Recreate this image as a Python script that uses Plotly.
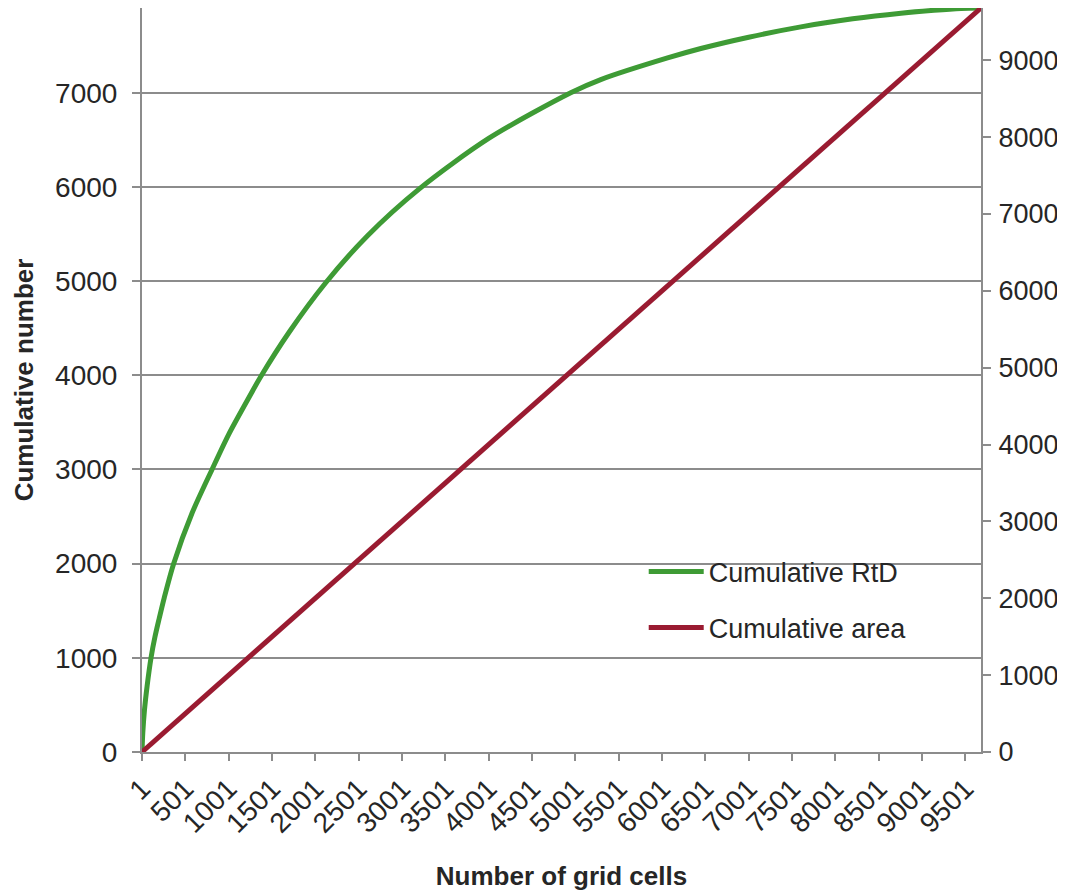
import plotly.graph_objects as go

# Green curve: cumulative RtD (left axis)
rtd_cells = [1, 10, 30, 60, 105, 150, 200, 258, 366, 580, 809, 1000, 1220, 1370, 1700, 2118, 2600, 3200,
             4000, 4947, 5293, 6064, 6448, 7000, 7602, 8200, 8757, 9138, 9450, 9680]
rtd_values = [0, 200, 450, 700, 1000, 1220, 1420, 1640, 2000, 2540, 3000, 3370, 3740, 3985, 4460, 4980, 5480, 5980,
              6515, 7000, 7140, 7370, 7470, 7590, 7700, 7785, 7845, 7876, 7895, 7900]

# Red line: cumulative area (right axis)
area_cells = [1, 9680]
area_values = [0, 9680]

x_tick_vals = list(range(1, 9502, 500))
x_tick_text = [str(v) for v in x_tick_vals]
left_ticks = [0, 1000, 2000, 3000, 4000, 5000, 6000, 7000]
right_ticks = [0, 1000, 2000, 3000, 4000, 5000, 6000, 7000, 8000, 9000]

FONT = "Liberation Sans, Arial, sans-serif"
GRID = "#8c8c8c"
TXT = "#262626"
TICK_SIZE = 28

fig = go.Figure()
fig.add_trace(go.Scatter(
    x=rtd_cells, y=rtd_values, mode="lines", name="Cumulative RtD",
    line=dict(color="#3E9B35", width=5, shape="spline", smoothing=0.8),
    legendgroup="a", yaxis="y"))
fig.add_trace(go.Scatter(
    x=area_cells, y=area_values, mode="lines", name="Cumulative area",
    line=dict(color="#9A1B31", width=5),
    legendgroup="b", yaxis="y2"))

# page body adds an 8px margin, so the figure is sized to fill the rest of the window
fig.update_layout(
    width=1057, height=883,
    margin=dict(l=134, r=84, t=0, b=139),
    paper_bgcolor="white", plot_bgcolor="white",
    font=dict(family=FONT, size=TICK_SIZE, color=TXT),
    showlegend=True,
    legend=dict(x=0.598, y=0.275, xanchor="left", yanchor="top",
                bgcolor="rgba(0,0,0,0)", font=dict(size=27, color=TXT),
                tracegroupgap=18, itemwidth=55),
    xaxis=dict(range=[1, 9680], tickmode="array", tickvals=x_tick_vals, ticktext=x_tick_text,
               tickangle=-45, ticks="outside", ticklen=7, tickwidth=1.5, tickcolor=GRID,
               showline=True, linecolor=GRID, linewidth=2, showgrid=False, zeroline=False,
               automargin=False,
               tickfont=dict(size=TICK_SIZE, color=TXT),
               title=dict(text="<b>Number of grid cells</b>", font=dict(size=26, color=TXT), standoff=44)),
    yaxis=dict(range=[0, 7900], tickmode="array", tickvals=left_ticks,
               ticks="outside", ticklen=8, tickwidth=1.5, tickcolor=GRID,
               showline=True, linecolor=GRID, linewidth=2,
               showgrid=True, gridcolor=GRID, gridwidth=1.5, zeroline=False,
               automargin=False, ticklabelstandoff=9,
               tickfont=dict(size=TICK_SIZE, color=TXT),
               title=dict(text="<b>Cumulative number</b>", font=dict(size=26, color=TXT), standoff=14)),
    yaxis2=dict(range=[0, 9680], tickmode="array", tickvals=right_ticks, overlaying="y", side="right",
                ticks="outside", ticklen=8, tickwidth=1.5, tickcolor=GRID,
                showline=True, linecolor=GRID, linewidth=2, showgrid=False, zeroline=False,
                automargin=False, ticklabelstandoff=2,
                tickfont=dict(size=27, color=TXT)),
)

fig.write_html("out.html")
